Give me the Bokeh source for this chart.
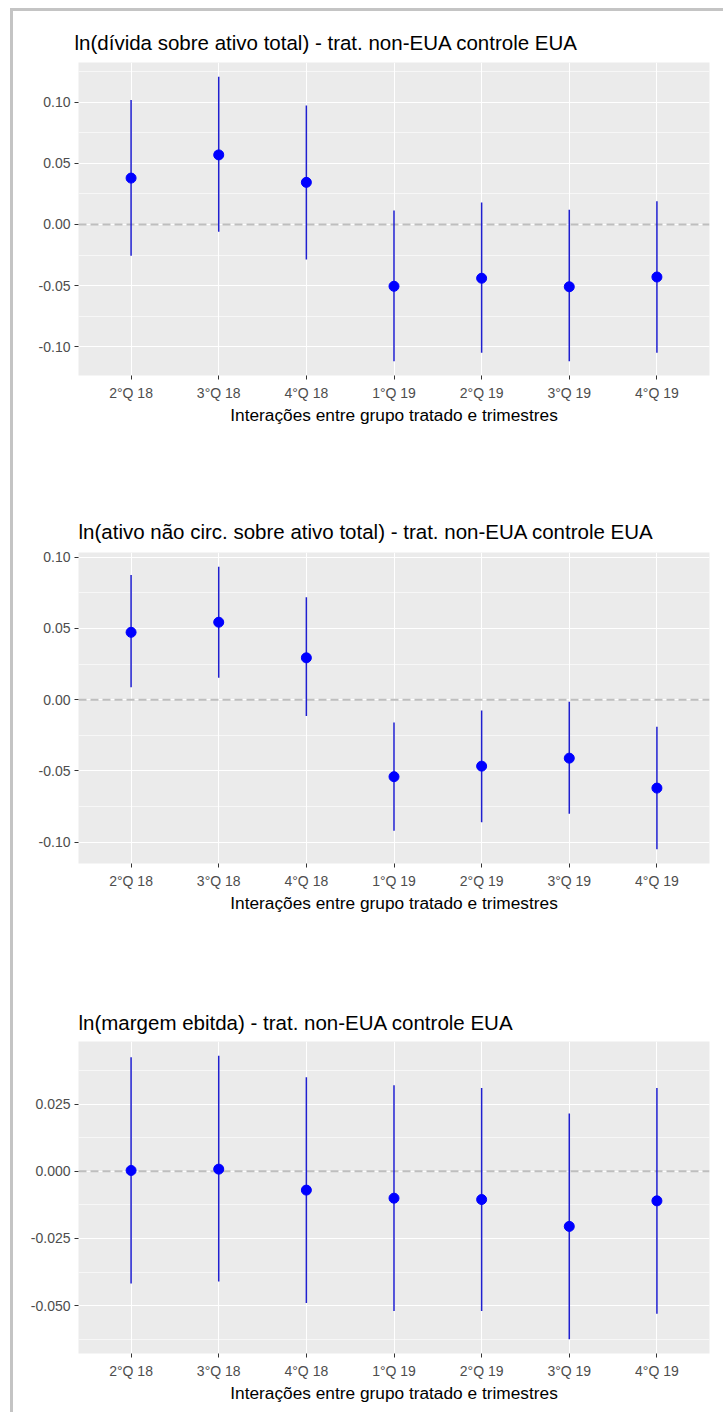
from bokeh.plotting import figure
from bokeh.models import (FactorRange, Range1d, FixedTicker, PrintfTickFormatter,
                          Span, ColumnDataSource, Div, Spacer)
from bokeh.layouts import column, row
from bokeh.embed import file_html
from bokeh.resources import INLINE

# ---------------- data ----------------
quarters = ["2°Q 18", "3°Q 18", "4°Q 18", "1°Q 19", "2°Q 19", "3°Q 19", "4°Q 19"]

title1 = "ln(dívida sobre ativo total) - trat. non-EUA controle EUA"
est1 = [0.038, 0.057, 0.0345, -0.0506, -0.044, -0.051, -0.043]
low1 = [-0.0255, -0.006, -0.0287, -0.112, -0.105, -0.112, -0.105]
high1 = [0.102, 0.121, 0.0975, 0.0115, 0.018, 0.012, 0.019]
major1 = [-0.10, -0.05, 0.0, 0.05, 0.10]
minor1 = [-0.125, -0.075, -0.025, 0.025, 0.075, 0.125]

title2 = "ln(ativo não circ. sobre ativo total) - trat. non-EUA controle EUA"
est2 = [0.0473, 0.0544, 0.0294, -0.054, -0.0466, -0.041, -0.062]
low2 = [0.0088, 0.0155, -0.0115, -0.092, -0.086, -0.080, -0.105]
high2 = [0.0876, 0.0934, 0.072, -0.016, -0.0075, -0.0015, -0.019]
major2 = [-0.10, -0.05, 0.0, 0.05, 0.10]
minor2 = [-0.125, -0.075, -0.025, 0.025, 0.075, 0.125]

title3 = "ln(margem ebitda) - trat. non-EUA controle EUA"
est3 = [0.0003, 0.0008, -0.007, -0.010, -0.0105, -0.0205, -0.011]
low3 = [-0.0417, -0.041, -0.049, -0.052, -0.052, -0.0625, -0.053]
high3 = [0.0424, 0.043, 0.035, 0.032, 0.031, 0.0215, 0.031]
major3 = [-0.050, -0.025, 0.0, 0.025]
minor3 = [-0.0625, -0.0375, -0.0125, 0.0125, 0.0375]

xlabel = "Interações entre grupo tratado e trimestres"

FONT = "Liberation Sans"
BORDER = "#C4C4C4"


def make_panel(title, est, low, high, major, minor, fmt, height, top, bottom, left, right,
               title_offset, title_standoff, title_size=20.5, tick_size=14, xlab_size=17.3):
    span = max(high) - min(low)
    yr = Range1d(min(low) - 0.05 * span, max(high) + 0.05 * span)
    xr = FactorRange(factors=quarters, range_padding=0.1, range_padding_units="absolute")
    p = figure(width=710, height=height, x_range=xr, y_range=yr,
               output_backend="svg", toolbar_location=None,
               min_border_top=top, min_border_bottom=bottom,
               min_border_left=left, min_border_right=right)
    p.background_fill_color = "#EBEBEB"
    p.border_fill_color = "white"
    p.outline_line_color = None

    p.title.text = title
    p.title.text_font = FONT
    p.title.text_font_size = f"{title_size}px"
    p.title.text_font_style = "normal"
    p.title.text_color = "black"
    p.title.align = "left"
    p.title.offset = title_offset
    p.title.standoff = title_standoff

    # grids
    p.xgrid.grid_line_color = "white"
    p.xgrid.grid_line_width = 1.1
    p.ygrid.grid_line_color = "white"
    p.ygrid.grid_line_width = 1.1
    p.ygrid.minor_grid_line_color = "white"
    p.ygrid.minor_grid_line_width = 0.6

    # y axis
    p.yaxis.ticker = FixedTicker(ticks=major, minor_ticks=minor)
    p.yaxis.formatter = PrintfTickFormatter(format=fmt)
    p.yaxis.axis_line_color = None
    p.yaxis.minor_tick_line_color = None
    p.yaxis.major_tick_in = 0
    p.yaxis.major_tick_out = 4
    p.yaxis.major_tick_line_color = "#333333"
    p.yaxis.major_label_standoff = 4
    p.yaxis.major_label_text_font = FONT
    p.yaxis.major_label_text_font_size = f"{tick_size}px"
    p.yaxis.major_label_text_color = "#4D4D4D"

    # x axis
    p.xaxis.axis_line_color = None
    p.xaxis.major_tick_in = 0
    p.xaxis.major_tick_out = 4
    p.xaxis.major_tick_line_color = "#333333"
    p.xaxis.major_label_standoff = 5
    p.xaxis.major_label_text_font = FONT
    p.xaxis.major_label_text_font_size = f"{tick_size}px"
    p.xaxis.major_label_text_color = "#4D4D4D"
    p.xaxis.axis_label = xlabel
    p.xaxis.axis_label_text_font = FONT
    p.xaxis.axis_label_text_font_size = f"{xlab_size}px"
    p.xaxis.axis_label_text_font_style = "normal"
    p.xaxis.axis_label_text_color = "black"
    p.xaxis.axis_label_standoff = 1

    zero = Span(location=0, dimension="width", line_color="#BEBEBE",
                line_width=2, line_dash="8 4", level="underlay")
    p.add_layout(zero)

    src = ColumnDataSource(dict(q=quarters, est=est, low=low, high=high))
    p.segment(x0="q", y0="low", x1="q", y1="high", source=src,
              line_color="#1F1FD0", line_width=1.5)
    p.scatter(x="q", y="est", source=src, size=10, fill_color="blue",
              line_color="blue")
    return p


p1 = make_panel(title1, est1, low1, high1, major1, minor1, "%.2f",
                height=459, top=51, bottom=95, left=59, right=9,
                title_offset=-4, title_standoff=16.5)
p2 = make_panel(title2, est2, low2, high2, major2, minor2, "%.2f",
                height=490, top=82, bottom=97, left=57, right=13,
                title_offset=0, title_standoff=19)
p3 = make_panel(title3, est3, low3, high3, major3, minor3, "%.3f",
                height=452, top=81, bottom=59, left=65, right=14,
                title_offset=0, title_standoff=15)

top_line = Div(text="", width=713, height=3, margin=0,
               styles={"background-color": BORDER})
left_line = Div(text="", width=3, height=1401, margin=0,
                styles={"background-color": BORDER})

layout = column(
    Spacer(width=723, height=8, margin=0),
    row(Spacer(width=10, height=3, margin=0), top_line, spacing=0),
    row(Spacer(width=10, height=1401, margin=0), left_line,
        column(p1, p2, p3, spacing=0), spacing=0),
    spacing=0,
)
open("out.html", "w").write(file_html(layout, INLINE))
